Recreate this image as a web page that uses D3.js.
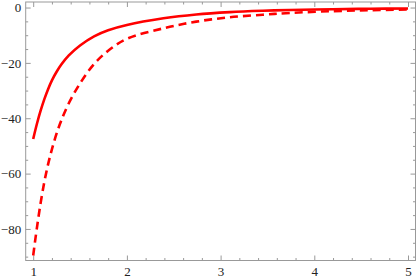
<!DOCTYPE html>
<html>
<head>
<meta charset="utf-8">
<script src="https://cdn.jsdelivr.net/npm/d3@7.9.0/dist/d3.min.js"></script>
<style>
  html, body { margin: 0; padding: 0; background: #fff; }
  svg { display: block; }
  .axis path { display: none; }
  .axis line { stroke: #999; stroke-width: 1; }
</style>
</head>
<body>
<div id="chart"></div>
<script>
// values
const solidX = [1.0, 1.04, 1.08, 1.12, 1.16, 1.2, 1.25, 1.3, 1.38, 1.5, 1.65, 1.8, 2.0, 2.39, 2.74, 3.1, 3.45, 3.74, 4.2, 4.6, 5.0];
const solidY = [-47.5, -42.0, -37.2, -33.0, -29.4, -26.3, -23.2, -20.6, -17.3, -13.7, -10.4, -8.2, -6.3, -3.9, -2.5, -1.65, -1.15, -0.87, -0.6, -0.45, -0.35];

const dashedX = [1.0, 1.04, 1.08, 1.12, 1.16, 1.2, 1.25, 1.3, 1.38, 1.5, 1.65, 1.8, 2.0, 2.39, 2.74, 3.1, 3.45, 3.74, 4.2, 4.6, 5.0];
const dashedY = [-89.6, -79.5, -70.5, -62.8, -56.5, -51.2, -45.5, -40.8, -34.6, -27.4, -20.4, -15.6, -11.3, -7.5, -5.1, -3.5, -2.6, -1.95, -1.3, -0.95, -0.7];

const xTicks = [1, 2, 3, 4, 5];
const yTicks = [0, -20, -40, -60, -80];

const width = 417;
const height = 279;
const frame = { left: 25.7, right: 415.5, top: 2, bottom: 260.5 };
const labelFont = '"Liberation Serif", "Times New Roman", serif';

const xScale = d3.scaleLinear().domain([0.92, 5.08]).range([frame.left, frame.right]);
const yScale = d3.scaleLinear().domain([-91.4, 2.0]).range([frame.bottom, frame.top]);

const svg = d3
  .select("#chart")
  .append("svg")
  .attr("width", width)
  .attr("height", height);

// minor ticks
const xMinor = d3.range(1, 5.001, 0.2).filter((d) => Math.abs(d - Math.round(d)) > 1e-6);
const yMinor = d3.range(-90, 0.001, 5).filter((d) => d % 20 !== 0);

function frameAxis(axisFn, scale, major, minor, pos, labels) {
  const g = svg.append("g").attr("class", "axis").attr("transform", pos);
  g.append("g").call(
    axisFn(scale).tickValues(minor).tickSize(-2.5).tickFormat("")
  );
  g.append("g")
    .call(
      axisFn(scale)
        .tickValues(major)
        .tickSize(-5)
        .tickPadding(labels ? 6 : 0)
        .tickFormat(labels ? (d) => String(d).replace("-", "\u2212") : "")
    )
    .attr("font-family", labelFont)
    .attr("font-size", 13);
  g.selectAll("text").style("font-family", labelFont).attr("fill", "#222");
  return g;
}

frameAxis(d3.axisBottom, xScale, xTicks, xMinor, `translate(0,${frame.bottom})`, true)
  .selectAll("text").attr("dy", "0.75em");
frameAxis(d3.axisTop, xScale, xTicks, xMinor, `translate(0,${frame.top})`, false);
frameAxis(d3.axisLeft, yScale, yTicks, yMinor, `translate(${frame.left},0)`, true)
  .selectAll("text").attr("x", -4.5);
frameAxis(d3.axisRight, yScale, yTicks, yMinor, `translate(${frame.right},0)`, false);

// frame box
svg
  .append("rect")
  .attr("x", frame.left)
  .attr("y", frame.top)
  .attr("width", frame.right - frame.left)
  .attr("height", frame.bottom - frame.top)
  .attr("fill", "none")
  .attr("stroke", "#999")
  .attr("stroke-width", 1);

svg
  .append("clipPath")
  .attr("id", "clip")
  .append("rect")
  .attr("x", frame.left)
  .attr("y", frame.top)
  .attr("width", frame.right - frame.left)
  .attr("height", frame.bottom - frame.top);

const line = d3
  .line()
  .x((d) => xScale(d[0]))
  .y((d) => yScale(d[1]))
  .curve(d3.curveCatmullRom.alpha(0.5));

const plot = svg.append("g").attr("clip-path", "url(#clip)");

plot
  .append("path")
  .datum(d3.zip(dashedX, dashedY))
  .attr("d", line)
  .attr("fill", "none")
  .attr("stroke", "#ff0000")
  .attr("stroke-width", 2.6)
  .attr("stroke-dasharray", "8,5");

plot
  .append("path")
  .datum(d3.zip(solidX, solidY))
  .attr("d", line)
  .attr("fill", "none")
  .attr("stroke", "#ff0000")
  .attr("stroke-width", 2.6);
</script>
</body>
</html>
